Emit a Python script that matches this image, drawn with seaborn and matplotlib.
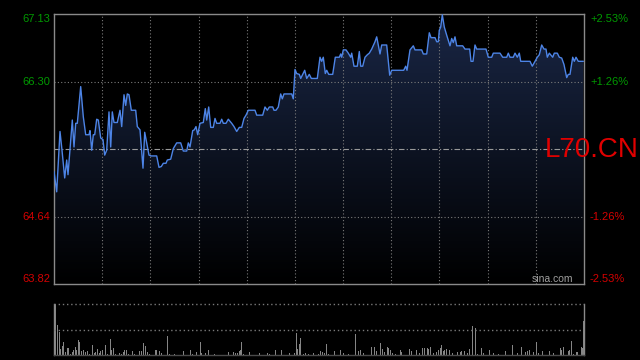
import numpy as np
import pandas as pd
import matplotlib
matplotlib.use("Agg")
import matplotlib.pyplot as plt
import seaborn as sns

# ---------------- data ----------------
symbol = "L70.CN"
prev_close = 65.47
price_ticks = [67.13, 66.30, 64.64, 63.82]
pct_labels = ["+2.53%", "+1.26%", "-1.26%", "-2.53%"]
session_len = 530  # time units across the session

minute = [0, 2.7, 6, 8, 10.7, 12.7, 14, 18.3, 20, 21.7, 23.3, 26.7, 29.3, 31.7, 35, 36, 37.7, 39.3,
          40.7, 42.7, 44.3, 46.7, 49, 50.7, 52.7, 55, 56.7, 58.3, 60, 63.3, 66, 67.7, 70, 71.7, 73.3,
          75, 77.3, 81.7, 83.3, 86, 89, 90.7, 92.7, 95, 97.3, 102.7, 105, 107.3, 109.3, 112, 113.3,
          116.7, 119.3, 122.7, 126.7, 129.3, 132.7, 134.3, 136, 138.7, 140.3, 142, 143.7, 146, 149.3,
          151.3, 152.7, 154.7, 156.7, 159.3, 161, 162.7, 166, 167.7, 169.3, 172, 174.3, 177.7, 180,
          182.7, 185.3, 187.7, 190, 192, 194.3, 201, 202.7, 208.7, 211, 213.3, 215.3, 218.7, 220, 222,
          224.3, 226.7, 228.3, 230, 237.7, 239.3, 241, 242.7, 245.3, 246.7, 248.7, 250.7, 252.7, 255.3,
          257.3, 263.3, 266, 267.7, 269.3, 271.3, 272.7, 274.7, 278.7, 281.3, 285.3, 286.7, 287.7,
          289.3, 292, 294.3, 296.7, 297.7, 300, 303.3, 305.3, 306.7, 308.7, 311, 313.3, 315.3, 317.7,
          321, 322.7, 326, 327.7, 332.7, 335.7, 337.7, 349.7, 351.7, 353, 356, 359.3, 361, 367.7,
          369.3, 372.7, 375.3, 377, 381, 382.7, 384.3, 385.3, 386.7, 388.3, 390.3, 392.7, 396, 397.7,
          399.3, 401, 402.7, 408.7, 411, 415.7, 417, 419, 421, 422.7, 432, 434.3, 437.7, 439.3, 446,
          448.7, 452.7, 454.3, 456, 459.3, 461, 463.3, 465.3, 466.7, 476, 478.3, 481, 483.3, 485.3,
          487.7, 490, 492, 493.3, 495.3, 498.7, 500.3, 503.3, 505.3, 507.7, 510, 512.7, 514.3, 516,
          518.7, 520.3, 522, 524.3, 529.3]

price = [65.20, 64.95, 65.69, 65.46, 65.12, 65.34, 65.16, 65.83, 65.50, 65.79, 65.79, 66.24, 65.87,
         65.65, 65.65, 65.70, 65.46, 65.65, 65.65, 65.84, 65.83, 65.61, 65.59, 65.40, 65.46, 65.93,
         65.50, 65.93, 65.80, 65.80, 65.95, 65.75, 66.14, 66.01, 66.15, 66.14, 65.95, 65.95, 65.75,
         65.71, 65.24, 65.68, 65.55, 65.40, 65.39, 65.39, 65.25, 65.26, 65.30, 65.30, 65.34, 65.35,
         65.48, 65.55, 65.55, 65.45, 65.45, 65.55, 65.50, 65.70, 65.71, 65.75, 65.65, 65.79, 65.80,
         65.97, 65.83, 65.99, 65.74, 65.74, 65.85, 65.79, 65.79, 65.84, 65.79, 65.79, 65.84, 65.79,
         65.75, 65.69, 65.74, 65.74, 65.85, 65.89, 65.95, 65.95, 65.89, 65.89, 65.99, 65.95, 65.99,
         65.99, 65.95, 65.95, 65.99, 66.15, 66.09, 66.15, 66.15, 66.09, 66.45, 66.40, 66.39, 66.34,
         66.39, 66.44, 66.34, 66.39, 66.34, 66.34, 66.60, 66.55, 66.60, 66.40, 66.44, 66.39, 66.39,
         66.60, 66.60, 66.64, 66.60, 66.69, 66.69, 66.65, 66.60, 66.65, 66.49, 66.49, 66.67, 66.49,
         66.49, 66.60, 66.63, 66.65, 66.70, 66.79, 66.85, 66.64, 66.75, 66.75, 66.38, 66.44, 66.44,
         66.49, 66.44, 66.69, 66.74, 66.69, 66.69, 66.64, 66.64, 66.90, 66.84, 66.84, 66.79, 66.79,
         66.93, 66.97, 67.12, 66.97, 66.87, 66.74, 66.83, 66.78, 66.85, 66.74, 66.74, 66.70, 66.70,
         66.55, 66.55, 66.75, 66.70, 66.70, 66.60, 66.60, 66.65, 66.65, 66.60, 66.60, 66.65, 66.60,
         66.60, 66.65, 66.60, 66.65, 66.55, 66.55, 66.49, 66.55, 66.60, 66.63, 66.75, 66.70, 66.70,
         66.60, 66.65, 66.60, 66.65, 66.65, 66.60, 66.59, 66.51, 66.35, 66.39, 66.39, 66.60, 66.55,
         66.60, 66.55, 66.55]

vol_minute = [1, 3, 5, 6, 8, 9, 11, 13, 14, 16, 18, 19, 21, 22, 24, 25, 27, 29, 31, 33, 35, 38, 40, 41,
              43, 45, 46, 48, 51, 53, 56, 57, 59, 61, 65, 67, 69, 70, 72, 74, 78, 80, 85, 87, 89, 91,
              93, 95, 101, 102, 105, 107, 113, 115, 120, 129, 136, 138, 142, 146, 147, 151, 154, 160,
              174, 179, 181, 183, 185, 186, 187, 189, 195, 205, 213, 215, 221, 227, 235, 240, 242, 243,
              245, 246, 249, 251, 254, 259, 264, 266, 268, 270, 272, 274, 280, 286, 289, 294, 301, 304,
              306, 309, 317, 320, 322, 326, 328, 330, 333, 334, 336, 338, 341, 346, 347, 355, 357, 362,
              365, 368, 370, 373, 374, 376, 379, 382, 384, 386, 387, 389, 390, 392, 395, 398, 403, 406,
              407, 410, 413, 415, 418, 421, 423, 427, 429, 435, 439, 444, 451, 458, 463, 467, 471, 473,
              475, 479, 482, 484, 488, 495, 499, 506, 507, 509, 514, 515, 517, 519, 522, 523, 527, 528,
              529.5]
volume = [5000, 2970, 2300, 630, 870, 1270, 300, 730, 670, 130, 300, 470, 770, 470, 1470, 1270, 400,
          470, 270, 370, 130, 970, 200, 300, 570, 200, 400, 470, 970, 130, 1570, 530, 670, 130, 200,
          130, 270, 470, 470, 130, 370, 130, 370, 370, 1200, 870, 270, 130, 470, 470, 370, 200, 1870,
          130, 130, 400, 470, 130, 270, 1270, 200, 200, 530, 130, 270, 270, 200, 200, 400, 530, 1270,
          130, 270, 200, 200, 130, 470, 470, 200, 200, 2200, 630, 1070, 1670, 130, 200, 130, 200, 130,
          400, 300, 200, 1070, 130, 400, 470, 200, 130, 2070, 400, 470, 200, 770, 770, 400, 1170, 570,
          300, 770, 670, 470, 200, 130, 530, 300, 630, 370, 530, 200, 670, 670, 670, 570, 770, 200,
          270, 470, 670, 970, 370, 470, 570, 470, 200, 270, 270, 370, 370, 200, 570, 2800, 2670, 130,
          670, 200, 470, 200, 130, 400, 1000, 200, 770, 270, 370, 470, 270, 1270, 200, 370, 370, 200,
          670, 470, 770, 400, 530, 1370, 130, 270, 270, 770, 670, 3300]
vol_max = 5000

# ---------------- style ----------------
sns.set_style("dark", {"axes.facecolor": "black", "figure.facecolor": "black"})
plt.rcParams["font.family"] = ["Liberation Sans", "DejaVu Sans"]

GREEN = "#009900"
RED = "#d40000"
GRID = "#7a7a7a"
BORDER = "#8a8a8a"
LINE = "#4d84e6"

fig = plt.figure(figsize=(6.4, 3.6), dpi=100, facecolor="black")
W, H = 640, 360
ax = fig.add_axes([54 / W, 1 - 284 / H, 530 / W, 270 / H])
axv = fig.add_axes([54 / W, 1 - 355 / H, 530 / W, 51 / H])

ymin, ymax = price_ticks[-1], price_ticks[0]
df = pd.DataFrame({"minute": minute, "price": price})

# gradient area under the price line
poly = ax.fill_between(df["minute"], df["price"], ymin, color="none", lw=0)
grad = np.zeros((256, 1, 4))
top = np.array([0.10, 0.15, 0.27])
for i in range(256):
    f = i / 255.0
    grad[i, 0, :3] = top * f
    grad[i, 0, 3] = 1.0
im = ax.imshow(grad, extent=[0, session_len, ymin, ymax], aspect="auto", origin="lower", zorder=1)
im.set_clip_path(poly.get_paths()[0], transform=ax.transData)

sns.lineplot(data=df, x="minute", y="price", ax=ax, color=LINE, lw=1.0, zorder=3, sort=False)

ax.set_xlim(0, session_len)
ax.set_ylim(ymin, ymax)
ax.set_xticks([])
ax.set_yticks([])
ax.set_xlabel("")
ax.set_ylabel("")
ax.grid(False)

dot = (0, (1, 2))
for k in range(1, 11):
    ax.axvline(session_len * k / 11, color=GRID, lw=0.8, ls=dot, zorder=2)
for v in price_ticks[1:3]:
    ax.axhline(v, color=GRID, lw=0.8, ls=dot, zorder=2)
ax.axhline(prev_close, color="#9a9a9a", lw=0.8, ls=(0, (5, 2, 1, 2)), zorder=2)

for s in ax.spines.values():
    s.set_color(BORDER)
    s.set_linewidth(1.0)
    s.set_visible(True)

# tick labels
vas = ["top", "center", "center", "bottom"]
colors = [GREEN, GREEN, RED, RED]
for v, lab, va, c in zip(price_ticks, pct_labels, vas, colors):
    ax.annotate(f"{v:.2f}", xy=(0, v), xycoords=("axes fraction", "data"), xytext=(-2.6, 0),
                textcoords="offset points", ha="right", va=va, color=c, fontsize=8)
    ax.annotate(lab, xy=(1, v), xycoords=("axes fraction", "data"), xytext=(4.3, 0),
                textcoords="offset points", ha="left", va=va, color=c, fontsize=8)

fig.text(545 / W, 1 - 150 / H, symbol, color="#e00000", fontsize=20, ha="left", va="center")
fig.text(573 / W, 1 - 284 / H, "sina.com", color="#a0a0a0", fontsize=7.5, ha="right", va="bottom")

# volume panel
axv.bar(vol_minute, volume, width=1.0, color="#858585", linewidth=0, zorder=2)
axv.set_xlim(0, session_len)
axv.set_ylim(0, vol_max)
axv.set_xticks([])
axv.set_yticks([])
axv.grid(False)
axv.axhline(vol_max, color=GRID, lw=1.0, ls=dot, clip_on=False, zorder=3)
axv.axhline(vol_max / 2, color=GRID, lw=1.0, ls=dot, zorder=3)
for name, s in axv.spines.items():
    s.set_color(BORDER)
    s.set_linewidth(1.0)
axv.spines["top"].set_visible(False)
axv.spines["bottom"].set_color("#4a4a4a")

fig.savefig("out.png", dpi=100, facecolor="black")
